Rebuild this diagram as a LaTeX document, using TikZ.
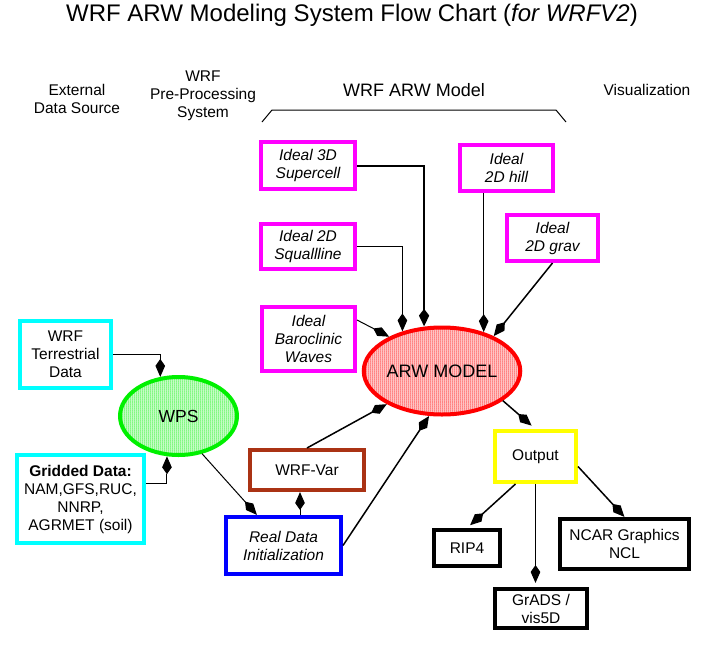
\documentclass[tikz,border=0pt]{standalone}
\usepackage{fontspec}
\setmainfont{Liberation Sans}
\usetikzlibrary{arrows.meta,shapes.geometric,patterns.meta}
\definecolor{mag}{RGB}{255,0,255}
\definecolor{cyn}{RGB}{0,255,255}
\definecolor{grn}{RGB}{0,240,0}
\definecolor{brn}{RGB}{170,50,20}
\definecolor{ylw}{RGB}{255,255,0}
\begin{document}
\begin{tikzpicture}[x=1pt,y=-1pt,
  lbl/.style={align=center, inner sep=0pt, font=\fontsize{15.5}{18}\selectfont},
  box/.style={draw, line width=4pt, align=center, inner sep=0pt, font=\fontsize{15.5}{18}\selectfont},
  ibox/.style={box, draw=mag, font=\fontsize{15.5}{18}\selectfont\itshape},
  bbox/.style={box, draw=black},
  oval/.style={ellipse, line width=4pt, inner sep=0pt},
  arr/.style={-{Stealth[length=11pt,width=9pt,inset=-7pt]}, line width=1pt},
  sz/.style 2 args={minimum width=#1pt, minimum height=#2pt}
]
\useasboundingbox (0,0) rectangle (707,646);

% headings
\node[lbl, font=\fontsize{24}{28}\selectfont] (title) at (352,15) {WRF ARW Modeling System Flow Chart (\textit{for WRFV2})};
\node[lbl] (ext) at (77,99) {External\\Data Source};
\node[lbl] (pre) at (203,96) {WRF\\Pre-Processing\\System};
\node[lbl, font=\fontsize{18}{20}\selectfont] (model) at (414,90) {WRF ARW Model};
\node[lbl] (vis) at (647,90) {Visualization};
\draw[line width=1pt] (262,122) -- (272,110) -- (556,110) -- (566,122);

% ideal cases
\node[ibox, sz={94}{47}] (sup) at (308,165.5) {Ideal 3D\\Supercell};
\node[ibox, sz={93}{46}] (hill) at (506.5,168) {Ideal\\2D hill};
\node[ibox, sz={94}{45}] (sq) at (308,246.5) {Ideal 2D\\Squallline};
\node[ibox, sz={91}{46}] (grav) at (552.5,238) {Ideal\\2D grav};
\node[ibox, sz={93}{64}] (baro) at (308.5,339) {Ideal\\Baroclinic\\Waves};

% model
\node[oval, draw=red, pattern={Dots[distance=2pt,radius=0.75pt]}, pattern color=red, minimum width=150pt, minimum height=87pt, font=\fontsize{18}{20}\selectfont] (arw) at (442,371) {ARW MODEL};
\node[oval, draw=grn, pattern={Dots[distance=2pt,radius=0.75pt]}, pattern color=grn, minimum width=117pt, minimum height=78pt, font=\fontsize{17.5}{20}\selectfont] (wps) at (178.5,416) {WPS};

% data sources
\node[box, draw=cyn, sz={91}{67}] (terr) at (65.5,354.5) {WRF\\Terrestrial\\Data};
\node[box, draw=cyn, sz={127}{88}] (grid) at (80.5,499) {\textbf{Gridded Data:}\\NAM,GFS,RUC,\\NNRP,\\AGRMET (soil)};
\node[box, draw=brn, sz={114}{40}] (var) at (307,470) {WRF-Var};
\node[box, draw=blue, sz={115}{57}, font=\fontsize{15.5}{18}\selectfont\itshape] (real) at (283.5,545.5) {Real Data\\Initialization};

% output
\node[box, draw=ylw, sz={81}{51}] (out) at (535.5,456.5) {Output};
\node[bbox, sz={66}{36}] (rip) at (467,548) {RIP4};
\node[bbox, sz={92}{39}] (grads) at (541,608.5) {GrADS /\\vis5D};
\node[bbox, sz={129}{50}] (ncar) at (624.5,544) {NCAR Graphics\\NCL};

% connectors
\draw[arr, line width=2pt] (sup.east) -| (arw.112);
\draw[arr] (sq.east) -| (arw.135);
\draw[arr] (hill.south -| arw.43) -- (arw.43);
\draw[arr, line width=1.5pt] (grav.south) -- (arw.34);
\draw[arr] ([yshift=19pt]baro.east) -- (arw.147);
\draw[arr] (terr.east) -| (wps.115);
\draw[arr] ([yshift=16pt]grid.east) -| (wps.254);
\draw[arr] (wps.302) -- ([xshift=33pt]real.north west);
\draw[arr] ([xshift=-7pt]var.south |- real.north) -- ([xshift=-7pt]var.south);
\draw[arr, line width=1.5pt] (var.north) -- (arw.211);
\draw[arr, line width=1.5pt] (real.east) -- (arw.254);
\draw[arr, line width=1.5pt, shorten >=5pt] (arw.334) -- (out.north);
\draw[arr, line width=1.5pt, shorten >=4pt] ([xshift=-20pt]out.south) -- (rip.north);
\draw[arr, shorten >=4pt] (out.south) -- (out.south |- grads.north);
\draw[arr, line width=1.5pt] ([yshift=-10pt]out.east) -- (ncar.north);
\end{tikzpicture}
\end{document}
